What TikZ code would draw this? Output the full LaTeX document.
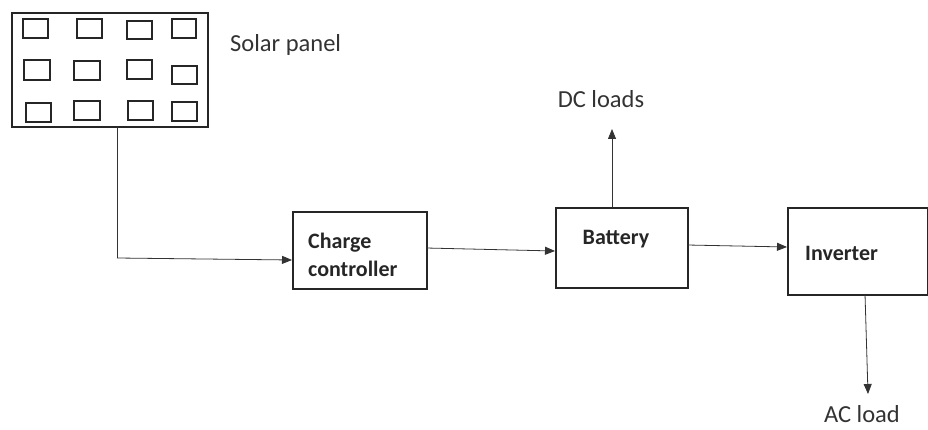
\documentclass[tikz,border=0pt]{standalone}
\usepackage{fontspec}
\setmainfont{Carlito}
\usetikzlibrary{arrows.meta}
\begin{document}
\begin{tikzpicture}[x=1pt,y=-1pt,
  box/.style={draw=black!85,line width=1.8pt},
  cell/.style={draw=black!85,line width=1.6pt},
  conn/.style={draw=black!80,line width=0.8pt},
  arr/.style={conn,-{Triangle[length=10pt,width=8pt]}},
  lbl/.style={font=\fontsize{24.5}{28}\selectfont,text=black!80,inner sep=0pt},
  blbl/.style={font=\fontsize{22}{26}\selectfont\bfseries,text=black!85,inner sep=0pt,align=left}]
\useasboundingbox (0,0) rectangle (928,430);
% solar panel
\draw[box] (12,13) rectangle (208,127);
\coordinate (pb) at (117,127);
\foreach \a/\b/\c/\d in {23/19/48/38, 77/19/102/38, 127/21/152/39, 172/19/196/38,
  24/60/50/80, 74/61/100/80, 127/60/152/79, 172/66/197/84,
  26/103/51/122, 74/101/100/120, 128/101/153/120, 172/102/197/121}
  \draw[cell] (\a,\b) rectangle (\c,\d);
\node[lbl,anchor=west] (sp) at (230,45) {Solar panel};
% boxes
\node[box,minimum width=134pt,minimum height=77pt,anchor=north west,inner sep=0pt] (cc) at (292,211) {};
\node[blbl,anchor=west] (cct) at (308,255) {Charge\\[2pt]controller};
\node[box,minimum width=132pt,minimum height=80pt,anchor=north west,inner sep=0pt] (bat) at (555,207) {};
\node[blbl] (batt) at (616,239) {Battery};
\node[box,minimum width=140pt,minimum height=87pt,anchor=north west,inner sep=0pt] (inv) at (787,207) {};
\node[blbl,anchor=west] (invt) at (805,253) {Inverter};
% labels
\node[lbl] (dc) at (601,99) {DC loads};
\node[lbl,anchor=base] (ac) at (862,422) {AC load};
% connectors
\coordinate (corner) at (117,258);
\draw[conn] (pb) -- (corner);
\draw[arr] (corner) -- (292,260);
\draw[arr] (426,248) -- (555,251);
\draw[arr] (687,245) -- (787,247);
\draw[arr] (612,207) -- (612,129);
\draw[arr] (865,294) -- (868,394);
\end{tikzpicture}
\end{document}
